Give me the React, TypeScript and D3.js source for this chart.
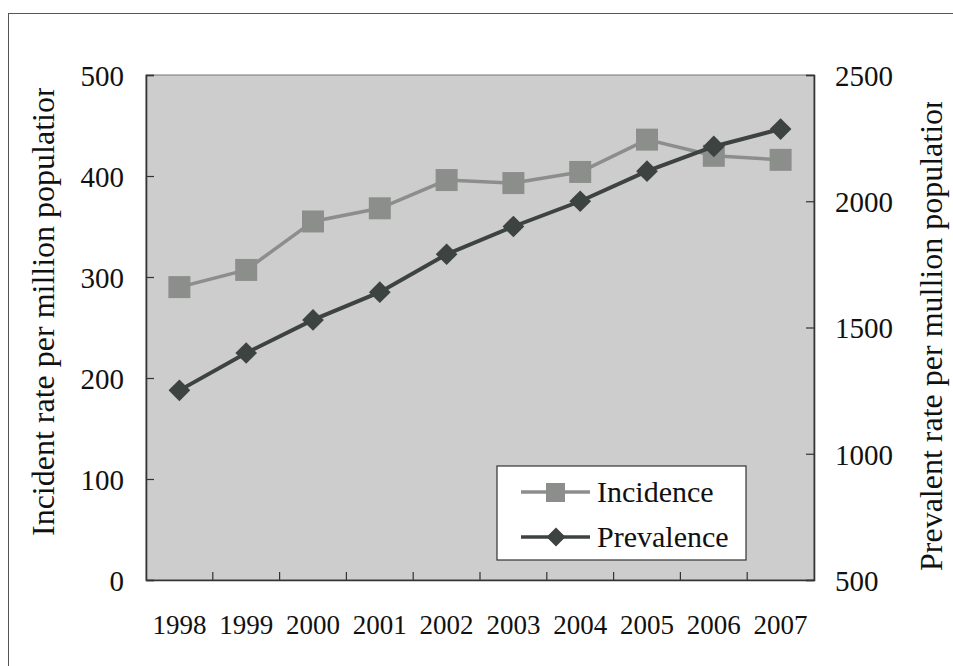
import React, { useEffect, useRef } from 'react';
import * as d3 from 'd3';

const years = ['1998', '1999', '2000', '2001', '2002', '2003', '2004', '2005', '2006', '2007'];
const incidence = [290, 307, 355, 368, 396, 393, 404, 436, 420, 416];
const prevalence = [1251, 1399, 1530, 1640, 1790, 1900, 2000, 2119, 2217, 2286];
const leftTicks = [0, 100, 200, 300, 400, 500];
const rightTicks = [500, 1000, 1500, 2000, 2500];

const W = 953;
const H = 666;

const App: React.FC = () => {
  const ref = useRef<SVGSVGElement>(null);

  useEffect(() => {
    const svg = d3.select(ref.current);
    svg.selectAll('*').remove();

    const left = 146, right = 814, top = 75, bottom = 580;
    const font = '"Liberation Serif", "Times New Roman", serif';

    const x = d3.scaleBand().domain(years).range([left, right]);
    const yL = d3.scaleLinear().domain([0, 500]).range([bottom, top]);
    const yR = d3.scaleLinear().domain([500, 2500]).range([bottom, top]);

    // outer frame
    svg.append('rect')
      .attr('x', 8.5).attr('y', 13.5)
      .attr('width', W + 20).attr('height', H + 20)
      .attr('fill', 'white').attr('stroke', '#555').attr('stroke-width', 1);

    // plot background
    svg.append('rect')
      .attr('x', left).attr('y', top)
      .attr('width', right - left).attr('height', bottom - top)
      .attr('fill', '#cdcdcd').attr('stroke', '#777').attr('stroke-width', 1);

    const fmt = d3.format('d');
    // left axis
    const gL = svg.append('g').attr('transform', `translate(${left},0)`)
      .call(d3.axisLeft(yL).tickValues(leftTicks).tickFormat(fmt).tickSize(-8).tickPadding(22));
    // right axis
    const gR = svg.append('g').attr('transform', `translate(${right},0)`)
      .call(d3.axisRight(yR).tickValues(rightTicks).tickFormat(fmt).tickSize(-8).tickPadding(21));
    // bottom axis: ticks at category boundaries
    const gB = svg.append('g').attr('transform', `translate(0,${bottom})`)
      .call(d3.axisBottom(x).tickSize(0).tickPadding(35));
    gB.selectAll('.boundary')
      .data(years.slice(1))
      .enter().append('line')
      .attr('x1', d => x(d) as number).attr('x2', d => x(d) as number)
      .attr('y1', 0).attr('y2', -8)
      .attr('stroke', '#333').attr('stroke-width', 1.2);

    [gL, gR, gB].forEach(g => {
      g.attr('font-family', font);
      g.select('.domain').attr('stroke', '#333').attr('stroke-width', 1.6);
      g.selectAll('.tick line').attr('stroke', '#333').attr('stroke-width', 1.2);
      g.selectAll('text')
        .attr('font-family', font).attr('font-size', 29).attr('fill', '#111');
    });
    gL.selectAll('.tick text').attr('dy', '0.36em');
    gR.selectAll('.tick text').attr('dy', '0.36em');
    gB.selectAll('.tick text').attr('font-size', 27);

    // axis titles (cropped at the top like the original)
    const defs = svg.append('defs');
    defs.append('clipPath').attr('id', 'clipL')
      .append('rect').attr('x', 0).attr('y', 88).attr('width', 80).attr('height', 560);
    defs.append('clipPath').attr('id', 'clipR')
      .append('rect').attr('x', 890).attr('y', 102).attr('width', 63).attr('height', 560);

    svg.append('g').attr('clip-path', 'url(#clipL)')
      .append('text')
      .attr('transform', `translate(54,536) rotate(-90)`)
      .attr('font-family', font).attr('font-size', 32).attr('fill', '#111')
      .text('Incident rate per million population');

    svg.append('g').attr('clip-path', 'url(#clipR)')
      .append('text')
      .attr('transform', `translate(942,571) rotate(-90)`)
      .attr('font-family', font).attr('font-size', 32).attr('fill', '#111')
      .text('Prevalent rate per mullion population');

    const cx = (d: string) => (x(d) as number) + x.bandwidth() / 2;

    const incColor = '#8c8e8c';
    const prevColor = '#3d4340';

    // incidence line
    svg.append('path')
      .datum(incidence)
      .attr('d', d3.line<number>().x((_, i) => cx(years[i])).y(v => yL(v)))
      .attr('fill', 'none').attr('stroke', incColor).attr('stroke-width', 3.5);
    svg.selectAll('.sq')
      .data(incidence)
      .enter().append('rect')
      .attr('x', (_, i) => cx(years[i]) - 11)
      .attr('y', v => yL(v) - 11)
      .attr('width', 22).attr('height', 22)
      .attr('fill', incColor);

    // prevalence line
    svg.append('path')
      .datum(prevalence)
      .attr('d', d3.line<number>().x((_, i) => cx(years[i])).y(v => yR(v)))
      .attr('fill', 'none').attr('stroke', prevColor).attr('stroke-width', 4);
    const diamond = d3.symbol().type(d3.symbolDiamond2).size(300);
    svg.selectAll('.dm')
      .data(prevalence)
      .enter().append('path')
      .attr('d', diamond)
      .attr('transform', (v, i) => `translate(${cx(years[i])},${yR(v)})`)
      .attr('fill', prevColor);

    // legend
    const lg = svg.append('g');
    lg.append('rect')
      .attr('x', 497).attr('y', 466).attr('width', 249).attr('height', 94)
      .attr('fill', 'white').attr('stroke', '#333').attr('stroke-width', 1.2);
    const items = [
      { label: 'Incidence', color: incColor, y: 492, marker: 'sq' },
      { label: 'Prevalence', color: prevColor, y: 537, marker: 'dm' },
    ];
    items.forEach(it => {
      lg.append('line')
        .attr('x1', 521).attr('x2', 590).attr('y1', it.y).attr('y2', it.y)
        .attr('stroke', it.color).attr('stroke-width', 3.5);
      if (it.marker === 'sq') {
        lg.append('rect')
          .attr('x', 546).attr('y', it.y - 9).attr('width', 19).attr('height', 19)
          .attr('fill', it.color);
      } else {
        lg.append('path')
          .attr('d', d3.symbol().type(d3.symbolDiamond2).size(230))
          .attr('transform', `translate(556,${it.y})`)
          .attr('fill', it.color);
      }
      lg.append('text')
        .attr('x', 597).attr('y', it.y + 10)
        .attr('font-family', font).attr('font-size', 30).attr('fill', '#111')
        .text(it.label);
    });
  }, []);

  return <svg ref={ref} width={W} height={H} style={{ position: 'absolute', left: 0, top: 0, background: 'white' }} />;
};

export default App;
